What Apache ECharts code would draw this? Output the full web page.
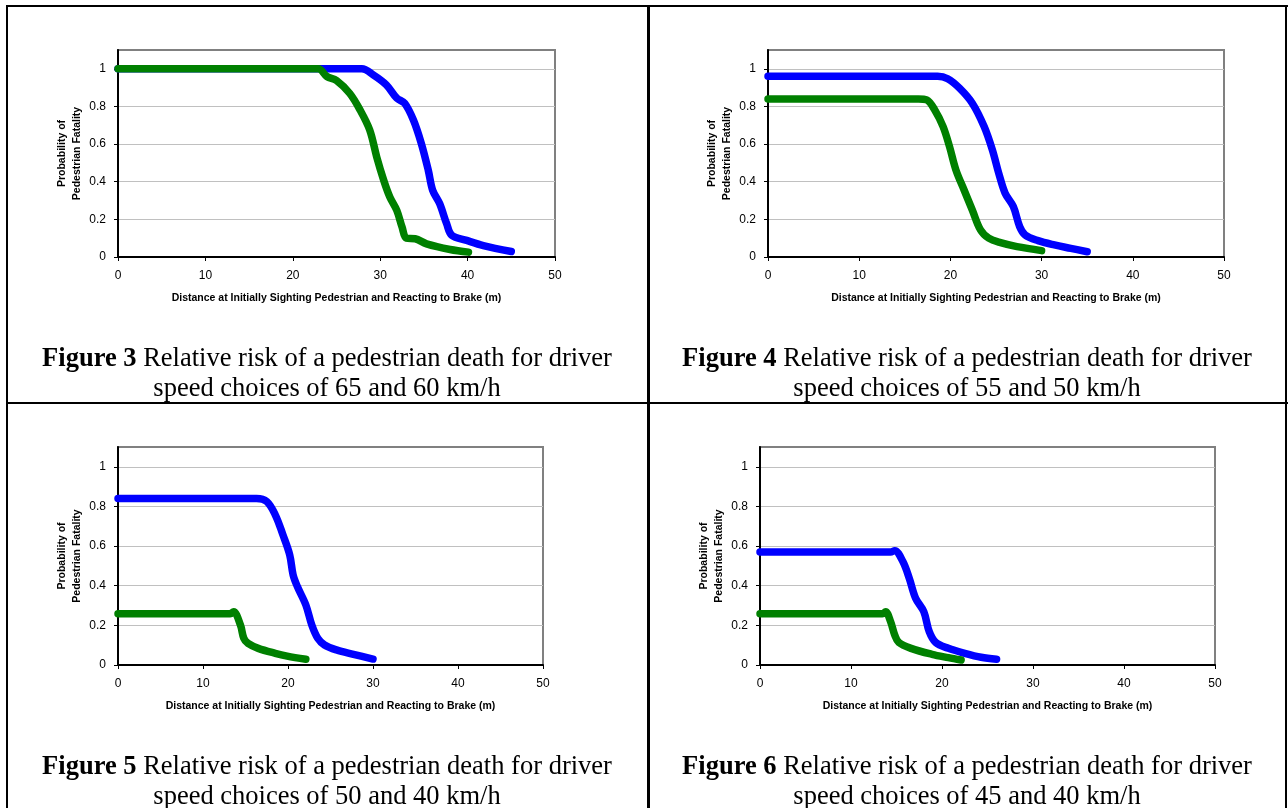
<!DOCTYPE html>
<html>
<head>
<meta charset="utf-8">
<script src="https://cdn.jsdelivr.net/npm/echarts@6/dist/echarts.min.js"></script>
<style>
html,body{margin:0;padding:0;background:#fff;}
#c{width:1288px;height:808px;}
</style>
</head>
<body>
<div id="c"></div>
<script>
// ---- data (x = distance m, y = probability) ----
const xTicks = [0, 10, 20, 30, 40, 50];
const yTicks = [0, 0.2, 0.4, 0.6, 0.8, 1];

const fig3Blue = [[0,1],[27.9,1],[29.2,0.968],[30.7,0.915],[31.9,0.844],[32.8,0.817],[33.8,0.728],[34.7,0.604],[35.5,0.461],[36.0,0.355],[36.8,0.284],[37.6,0.177],[38.2,0.115],[39.9,0.088],[41.8,0.061],[45.0,0.029]];
const fig3Green = [[0,1],[22.9,1],[23.9,0.959],[25.0,0.938],[26.5,0.87],[27.7,0.781],[28.8,0.675],[29.6,0.532],[30.4,0.408],[31.1,0.319],[31.9,0.248],[32.5,0.159],[33.0,0.100],[34.0,0.097],[35.3,0.070],[38.0,0.040],[40.1,0.026]];

const fig4Blue = [[0,0.96],[18.6,0.96],[19.7,0.947],[21.0,0.897],[22.4,0.817],[23.7,0.693],[24.6,0.569],[25.3,0.445],[26.0,0.339],[26.9,0.268],[27.6,0.161],[28.2,0.117],[29.6,0.087],[31.4,0.064],[33.2,0.046],[35.0,0.028]];
const fig4Green = [[0,0.84],[16.5,0.84],[17.4,0.835],[18.3,0.78],[19.2,0.693],[19.9,0.587],[20.6,0.463],[21.5,0.356],[22.4,0.25],[23.3,0.144],[24.2,0.10],[25.5,0.076],[27.3,0.055],[30.0,0.034]];

const fig5Blue = [[0,0.84],[16.3,0.84],[17.5,0.825],[18.5,0.758],[19.4,0.657],[20.2,0.556],[20.6,0.455],[21.1,0.396],[22.1,0.303],[22.8,0.202],[23.5,0.135],[24.3,0.101],[25.7,0.076],[27.7,0.054],[30.0,0.03]];
const fig5Green = [[0,0.258],[13.2,0.258],[13.6,0.269],[14.4,0.202],[14.8,0.135],[15.3,0.109],[16.5,0.084],[18.5,0.059],[19.9,0.045],[22.1,0.029]];

const fig6Blue = [[0,0.57],[14.35,0.57],[14.8,0.577],[15.7,0.522],[16.4,0.438],[17.1,0.337],[18.0,0.269],[18.6,0.168],[19.3,0.114],[20.7,0.084],[22.5,0.059],[24.3,0.039],[26.0,0.029]];
const fig6Green = [[0,0.258],[13.45,0.258],[13.8,0.269],[14.35,0.219],[14.8,0.152],[15.25,0.114],[16.6,0.084],[18.9,0.054],[20.7,0.037],[22.1,0.025]];

const figNames = ['Figure 3', 'Figure 4', 'Figure 5', 'Figure 6'];
const speedPairs = ['65 and 60', '55 and 50', '50 and 40', '45 and 40'];
const xTitle = 'Distance at Initially Sighting Pedestrian and Reacting to Brake (m)';
const yTitle = 'Probability of\nPedestrian Fatality';

// ---- layout ----
const panels = [
  {grid:{left:118, top:50, width:437, height:207}, cx:327, cy:344, blue:fig3Blue, green:fig3Green},
  {grid:{left:768, top:50, width:456, height:207}, cx:967, cy:344, blue:fig4Blue, green:fig4Green},
  {grid:{left:118, top:447, width:425, height:218}, cx:327, cy:752, blue:fig5Blue, green:fig5Green},
  {grid:{left:760, top:447, width:455, height:218}, cx:967, cy:752, blue:fig6Blue, green:fig6Green}
];

const grids = [], xAxes = [], yAxes = [], series = [], titles = [];
panels.forEach((p, i) => {
  grids.push(Object.assign({show:true, borderColor:'#808080', borderWidth:2, backgroundColor:'#fff', containLabel:false}, p.grid));
  xAxes.push({
    type:'value', gridIndex:i, min:xTicks[0], max:xTicks[xTicks.length-1], interval:10,
    axisLine:{show:true, onZero:false, lineStyle:{color:'#000', width:2}},
    axisTick:{show:true, inside:false, length:4, lineStyle:{color:'#000', width:1}},
    axisLabel:{color:'#000', fontSize:12, fontFamily:'Liberation Sans, Arial', margin:13},
    splitLine:{show:false},
    name:xTitle, nameLocation:'middle', nameGap:36,
    nameTextStyle:{color:'#000', fontSize:10.5, fontWeight:'bold', fontFamily:'Liberation Sans, Arial'}
  });
  yAxes.push({
    type:'value', gridIndex:i, min:0, max:1.1, interval:0.2,
    axisLine:{show:true, onZero:false, lineStyle:{color:'#000', width:2}},
    axisTick:{show:true, inside:false, length:4, customValues:yTicks, lineStyle:{color:'#000', width:1}},
    axisLabel:{color:'#000', fontSize:12, fontFamily:'Liberation Sans, Arial', margin:12, customValues:yTicks},
    splitLine:{show:true, lineStyle:{color:'#c0c0c0', width:1}},
    name:yTitle, nameLocation:'middle', nameGap:33, nameRotate:90,
    nameTextStyle:{color:'#000', fontSize:10.5, fontWeight:'bold', fontFamily:'Liberation Sans, Arial', lineHeight:15}
  });
  series.push({
    type:'line', xAxisIndex:i, yAxisIndex:i, data:p.blue, showSymbol:false, symbol:'none',
    smooth:0.35, lineStyle:{color:'#0000ff', width:7.5, cap:'round', join:'round'}, silent:true
  });
  series.push({
    type:'line', xAxisIndex:i, yAxisIndex:i, data:p.green, showSymbol:false, symbol:'none',
    smooth:0.35, lineStyle:{color:'#008000', width:7.5, cap:'round', join:'round'}, silent:true
  });
  titles.push({
    text:'{b|' + figNames[i] + '} Relative risk of a pedestrian death for driver\nspeed choices of ' + speedPairs[i] + ' km/h',
    left:p.cx, top:p.cy, textAlign:'center', padding:0,
    textStyle:{fontFamily:'Liberation Serif, Times New Roman', fontSize:26.5, fontWeight:'normal', color:'#000', lineHeight:30,
      rich:{b:{fontFamily:'Liberation Serif, Times New Roman', fontSize:26.5, fontWeight:'bold', color:'#000', lineHeight:30}}}
  });
});

const chart = echarts.init(document.getElementById('c'), null, {renderer:'canvas'});
chart.setOption({
  animation:false,
  backgroundColor:'#fff',
  title:titles,
  grid:grids, xAxis:xAxes, yAxis:yAxes, series:series,
  graphic:[
    {type:'rect', shape:{x:6, y:5, width:1282, height:2}, style:{fill:'#000'}},
    {type:'rect', shape:{x:6, y:5, width:2, height:803}, style:{fill:'#000'}},
    {type:'rect', shape:{x:647, y:5, width:3, height:803}, style:{fill:'#000'}},
    {type:'rect', shape:{x:6, y:402, width:1282, height:2}, style:{fill:'#000'}},
    {type:'rect', shape:{x:1285, y:5, width:2, height:803}, style:{fill:'#000'}}
  ]
});
</script>
</body>
</html>
